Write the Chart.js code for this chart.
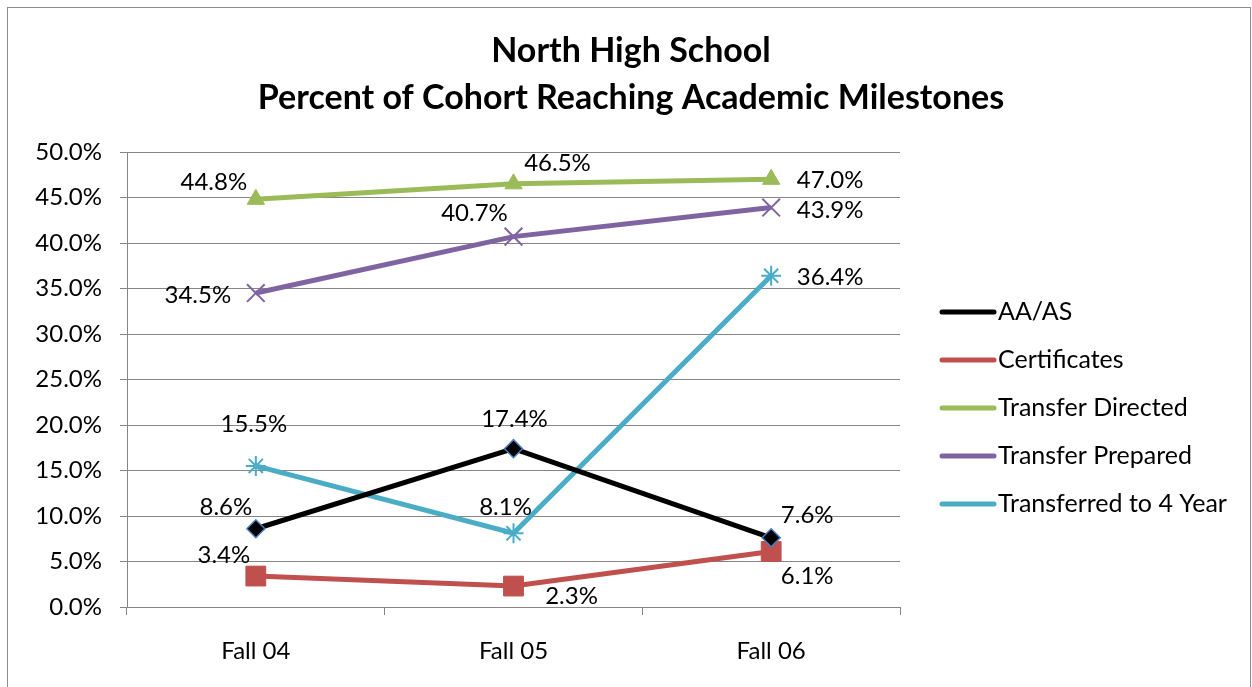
<!DOCTYPE html>
<html>
<head>
<meta charset="utf-8">
<script src="https://cdn.jsdelivr.net/npm/chart.js@4/dist/chart.umd.min.js"></script>
<style>
  html, body { margin: 0; padding: 0; background: #fff; }
  #wrap { width: 1252px; height: 687px; }
</style>
</head>
<body>
<div id="wrap"><canvas id="canvas" width="1252" height="687"></canvas></div>
<script>
// chart data
const years = ['Fall 04', 'Fall 05', 'Fall 06'];
const aaAs = [8.6, 17.4, 7.6];
const certificates = [3.4, 2.3, 6.1];
const transferDirected = [44.8, 46.5, 47.0];
const transferPrepared = [34.5, 40.7, 43.9];
const transferred4yr = [15.5, 8.1, 36.4];

const FONT = 'Lato, "Open Sans", sans-serif';

// where each data label sits relative to its point (dx, dy)
const labelOffsets = [
    [[-30, -21], [1, -29], [36, -23]],
    [[-32, -21], [58, 10], [36, 25]],
    [[-42, -17], [44, -21], [59, 1]],
    [[-58, 2], [-39, -23], [59, 3]],
    [[-2, -42], [-8, -26], [59, 2]]
];

const frameAndTitle = {
    id: 'frameAndTitle',
    beforeDraw(chart) {
        const c = chart.ctx;
        c.save();
        c.strokeStyle = '#8c8c8c';
        c.lineWidth = 1;
        c.strokeRect(7.5, 7.5, 1243, 700);
        c.fillStyle = '#000';
        c.font = 'bold 34px ' + FONT;
        c.textAlign = 'center';
        c.textBaseline = 'middle';
        c.fillText('North High School', 631, 51);
        c.fillText('Percent of Cohort Reaching Academic Milestones', 631, 98);
        c.restore();
    }
};

const dataLabels = {
    id: 'dataLabels',
    afterDatasetsDraw(chart) {
        const c = chart.ctx;
        c.save();
        c.font = '24px ' + FONT;
        c.fillStyle = '#000';
        c.textAlign = 'center';
        c.textBaseline = 'middle';
        chart.data.datasets.forEach((ds, i) => {
            const meta = chart.getDatasetMeta(i);
            meta.data.forEach((pt, j) => {
                const off = labelOffsets[i][j];
                c.fillText(ds.data[j].toFixed(1) + '%', pt.x + off[0], pt.y + off[1]);
            });
        });
        c.restore();
    }
};

const sideLegend = {
    id: 'sideLegend',
    afterDraw(chart) {
        const c = chart.ctx;
        c.save();
        chart.data.datasets.forEach((ds, i) => {
            const y = 312 + i * 48;
            c.strokeStyle = ds.borderColor;
            c.lineWidth = 5;
            c.lineCap = 'round';
            c.beginPath();
            c.moveTo(942, y);
            c.lineTo(994, y);
            c.stroke();
            c.lineCap = 'butt';
            c.fillStyle = ds.pointBackgroundColor;
            c.strokeStyle = ds.pointBorderColor;
            c.lineWidth = ds.pointBorderWidth;
            Chart.helpers.drawPoint(c, {
                pointStyle: ds.pointStyle,
                rotation: 0,
                borderWidth: ds.pointBorderWidth
            }, 968, y);
            c.fillStyle = '#000';
            c.font = '25px ' + FONT;
            c.textAlign = 'left';
            c.textBaseline = 'middle';
            c.fillText(ds.label, 998, y);
        });
        c.restore();
    }
};

function series(label, data, color, style, radius, extra) {
    return Object.assign({
        label: label,
        data: data,
        borderColor: color,
        backgroundColor: color,
        borderWidth: 5,
        pointStyle: style,
        pointRadius: radius,
        pointHoverRadius: radius,
        pointBackgroundColor: color,
        pointBorderColor: color,
        pointBorderWidth: 1,
        tension: 0
    }, extra || {});
}

const ctx = document.getElementById('canvas').getContext('2d');

const myChart = new Chart(ctx, {
    type: 'line',
    data: {
        labels: years,
        datasets: [
            series('AA/AS', aaAs, '#000000', 'rectRot', 9, { pointBorderColor: '#4a7ebb', pointBorderWidth: 1.5 }),
            series('Certificates', certificates, '#c0504d', 'rect', 14),
            series('Transfer Directed', transferDirected, '#9bbb59', 'triangle', 10),
            series('Transfer Prepared', transferPrepared, '#8064a2', 'crossRot', 12.5, { pointBorderWidth: 2 }),
            series('Transferred to 4 Year', transferred4yr, '#4bacc6', 'star', 10, { pointBorderWidth: 2 })
        ]
    },
    options: {
        responsive: false,
        animation: false,
        layout: { padding: { left: 0, right: 352, top: 152, bottom: 20 } },
        plugins: {
            legend: { display: false },
            title: { display: false },
            tooltip: { enabled: false }
        },
        scales: {
            x: {
                offset: true,
                grid: { offset: true, drawOnChartArea: false, drawTicks: true, tickLength: 8, color: '#868686' },
                border: { color: '#868686' },
                ticks: { color: '#000', font: { family: FONT, size: 24 }, padding: 22 },
                afterFit(scale) { scale.height = 60; }
            },
            y: {
                min: 0,
                max: 50,
                grid: { color: '#868686', tickLength: 7 },
                border: { color: '#868686' },
                ticks: {
                    stepSize: 5,
                    color: '#000',
                    font: { family: FONT, size: 24 },
                    padding: 18,
                    callback: v => v.toFixed(1) + '%'
                },
                afterFit(scale) { scale.width = 127; }
            }
        }
    },
    plugins: [frameAndTitle, dataLabels, sideLegend]
});
</script>
</body>
</html>
